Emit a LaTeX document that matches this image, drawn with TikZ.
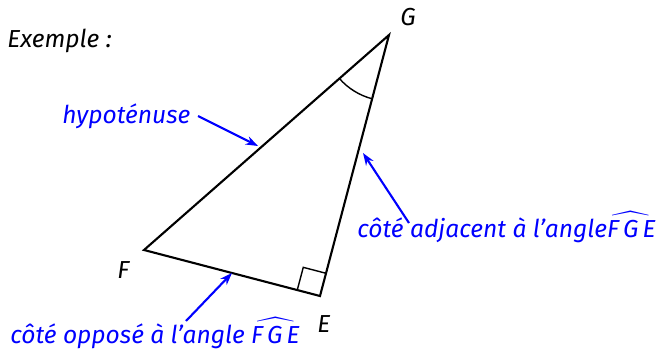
\documentclass[tikz,border=0pt]{standalone}
\usepackage{amsmath}
\usepackage{fontspec}
\setmainfont{Fira Sans}
\usetikzlibrary{arrows.meta,calc,angles}

\begin{document}
\begin{tikzpicture}[x=0.02cm, y=-0.02cm,
          every node/.style={font=\fontsize{14}{16}\selectfont\itshape, inner sep=0pt},
          lbl/.style={anchor=base west},
          note/.style={anchor=base west, blue},
          ptr/.style={-{Stealth[length=7pt,width=5pt]}, very thick, blue},
          side/.style={very thick, line join=miter}
      ]
        \useasboundingbox (0,0) rectangle (657,355);
        \coordinate (G) at (389,35);
        \coordinate (F) at (144,250);
        \coordinate (E) at (320,296);
        \draw[side] (F) -- (G) -- (E) -- cycle;
        % angle droit en E
        \coordinate (ef) at ($(E)!0.47cm!(F)$);
        \coordinate (eg) at ($(E)!0.47cm!(G)$);
        \draw[thick] (ef) -- ($(ef)+(eg)-(E)$) -- (eg);
        \pic[draw, thick, angle radius=1.32cm] {angle = F--G--E};
        \node[lbl] (ex)  at (7,48)    {Exemple :};
        \node[lbl] (lg)  at (400,26)  {G};
        \node[lbl] (lf)  at (117,278) {F};
        \node[lbl] (le)  at (317,332) {E};
        \node[note] (hyp) at (62,123)  {hypoténuse};
        \node[note] (opp) at (10,343)  {côté opposé à l’angle $\widehat{\textit{F\,G\,E}}$};
        \node[note] (adj) at (357,237) {côté adjacent à l’angle$\widehat{\textit{F\,G\,E}}$};
        \coordinate (h1) at (198,116);
        \coordinate (h2) at (258,146);
        \coordinate (o1) at (186,321);
        \coordinate (o2) at (232,273);
        \coordinate (a1) at (409,223);
        \coordinate (a2) at (363,153);
        \draw[ptr] (h1) -- (h2);
        \draw[ptr] (o1) -- (o2);
        \draw[ptr] (a1) -- (a2);
      \end{tikzpicture}
\end{document}
